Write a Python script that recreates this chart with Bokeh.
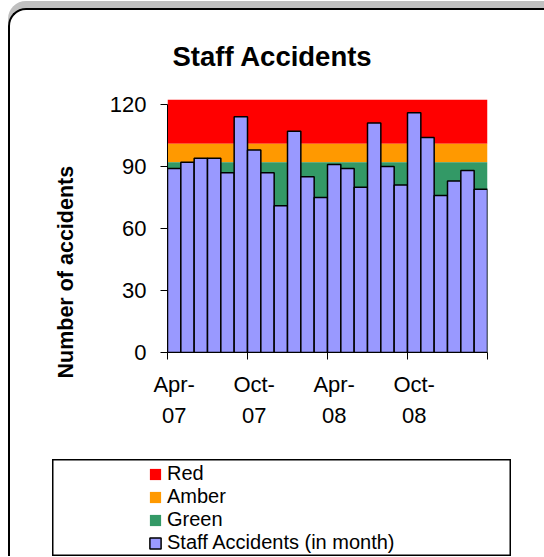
from bokeh.plotting import figure
from bokeh.layouts import column
from bokeh.models import (Range1d, FixedTicker, Legend, LegendItem, Title,
                          ColumnDataSource)
from bokeh.embed import file_html
from bokeh.resources import INLINE

# ---- data ----
months = ["Apr-07", "May-07", "Jun-07", "Jul-07", "Aug-07", "Sep-07",
          "Oct-07", "Nov-07", "Dec-07", "Jan-08", "Feb-08", "Mar-08",
          "Apr-08", "May-08", "Jun-08", "Jul-08", "Aug-08", "Sep-08",
          "Oct-08", "Nov-08", "Dec-08", "Jan-09", "Feb-09", "Mar-09"]
accidents = [89, 92, 94, 94, 87, 114, 98, 87, 71, 107, 85, 75,
             91, 89, 80, 111, 90, 81, 116, 104, 76, 83, 88, 79]
labelled_months = ["Apr-07", "Oct-07", "Apr-08", "Oct-08"]
boundary_months = [0, 6, 12, 18, 24]
green_top = 92
amber_top = 101
red_top = 122.4
y_ticks = [0, 30, 60, 90, 120]

FONT = "Liberation Sans"
C_RED, C_AMB, C_GRN, C_BAR = "#FF0000", "#FF9900", "#339966", "#9999FF"

xs = [i + 0.5 for i in range(len(months))]
edges = [0, len(months)]
src = ColumnDataSource(dict(x=xs, y=accidents, m=months))


def draw_series(fig):
    r_red = fig.varea(x=edges, y1=[amber_top] * 2, y2=[red_top] * 2, fill_color=C_RED)
    r_amb = fig.varea(x=edges, y1=[green_top] * 2, y2=[amber_top] * 2, fill_color=C_AMB)
    r_grn = fig.varea(x=edges, y1=[0] * 2, y2=[green_top] * 2, fill_color=C_GRN)
    r_bar = fig.vbar(x="x", top="y", width=1.0, source=src, fill_color=C_BAR,
                     line_color="black", line_width=1.5)
    return r_red, r_amb, r_grn, r_bar


# ---- main chart ----
W, H = 534, 449
p = figure(width=W, height=H, output_backend="svg", toolbar_location=None,
           x_range=Range1d(0, len(months)), y_range=Range1d(0, red_top),
           min_border_left=157, min_border_right=57, min_border_top=89,
           min_border_bottom=107)
p.frame_align = False
p.outline_line_color = None
p.xgrid.visible = False
p.ygrid.visible = False
p.background_fill_color = "white"
p.border_fill_alpha = 0

p.title.text = "Staff Accidents"
p.title.text_font = FONT
p.title.text_font_size = "27.5px"
p.title.text_font_style = "bold"
p.title.text_color = "black"
p.title.align = "left"
p.title.offset = 5
p.title.standoff = 56

p.add_layout(Title(text="Number of accidents", text_font=FONT,
                   text_font_size="21.5px", text_font_style="bold",
                   text_color="black", align="left", offset=-26,
                   standoff=57), "left")

draw_series(p)

ya = p.yaxis[0]
ya.ticker = FixedTicker(ticks=y_ticks)
ya.bounds = (0, 120)
ya.major_tick_out = 7
ya.major_tick_in = 0
ya.minor_tick_line_color = None
ya.major_label_text_font = FONT
ya.major_label_text_font_size = "22px"
ya.major_label_text_color = "black"
ya.major_label_standoff = 14
ya.axis_line_color = "black"

xa = p.xaxis[0]
label_pos = [xs[months.index(m)] for m in labelled_months]
xa.ticker = FixedTicker(ticks=label_pos, minor_ticks=boundary_months)
xa.major_label_overrides = {xs[months.index(m)]: m.replace("-", "-\n")
                            for m in labelled_months}
xa.major_tick_line_color = None
xa.major_tick_out = 7
xa.minor_tick_out = 7
xa.minor_tick_in = 0
xa.minor_tick_line_color = "black"
xa.major_label_text_font = FONT
xa.major_label_text_font_size = "22px"
xa.major_label_text_line_height = 1.24
xa.major_label_text_color = "black"
xa.major_label_standoff = 12
xa.axis_line_color = "black"

# ---- legend panel (series drawn outside its visible range) ----
lf = figure(width=459, height=97, output_backend="svg", toolbar_location=None,
            x_axis_type=None, y_axis_type=None, min_border=0,
            x_range=Range1d(-2, -1), y_range=Range1d(-2, -1))
lf.frame_align = False
lf.xgrid.visible = False
lf.ygrid.visible = False
lf.outline_line_color = "black"
lf.outline_line_width = 2
lf.border_fill_alpha = 0
lf.margin = (0, 0, 0, 42)
l_red, l_amb, l_grn, l_bar = draw_series(lf)
legend = Legend(items=[LegendItem(label="Red", renderers=[l_red]),
                       LegendItem(label="Amber", renderers=[l_amb]),
                       LegendItem(label="Green", renderers=[l_grn]),
                       LegendItem(label="Staff Accidents (in month)", renderers=[l_bar])],
                location=(96, 2), padding=0, margin=0, spacing=0,
                label_height=20, glyph_height=14, glyph_width=14,
                label_standoff=5, border_line_color=None,
                background_fill_alpha=0, label_text_font=FONT,
                label_text_font_size="20px", label_text_color="black")
lf.add_layout(legend, "center")

page = column(p, lf, spacing=0)
page.margin = (8, 0, 0, 8)
page.styles = {"border-top": "2px solid black", "border-left": "2px solid black",
               "border-top-left-radius": "18px",
               "box-shadow": "0px -7px 0px 0px #C0C0C0"}

open("out.html", "w").write(file_html(page, INLINE))
